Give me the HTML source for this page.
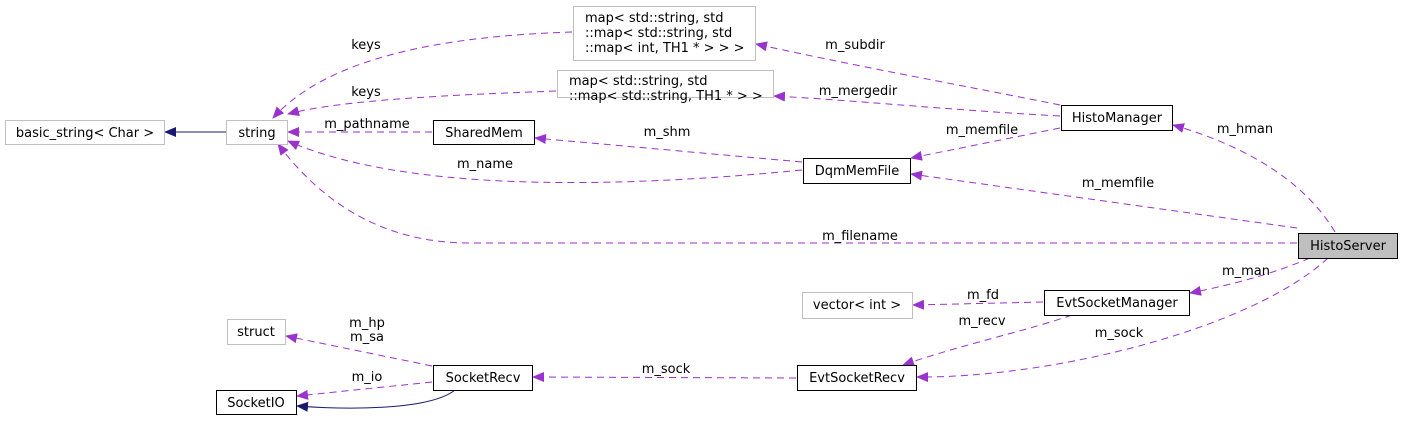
<!DOCTYPE html>
<html><head><meta charset="utf-8"><style>
body{margin:0;background:#fff;}
svg{display:block;font-family:"DejaVu Sans","Liberation Sans",sans-serif;font-size:13px;}
</style></head><body>
<svg width="1403" height="421" viewBox="0 0 1403 421" xmlns="http://www.w3.org/2000/svg">
<defs>
<marker id="p" markerWidth="12" markerHeight="10" refX="11" refY="5" orient="auto" markerUnits="userSpaceOnUse"><path d="M0,0 L12,5 L0,10 z" fill="#9a32cd"/></marker>
<marker id="b" markerWidth="12" markerHeight="10" refX="11" refY="5" orient="auto" markerUnits="userSpaceOnUse"><path d="M0,0 L12,5 L0,10 z" fill="#191970"/></marker>
</defs>
<g fill="none" stroke="#9a32cd" stroke-dasharray="7,5" stroke-width="1">
<path d="M572,32 C450,36 330,55 273,118" marker-end="url(#p)"/>
<path d="M556,91 C450,95 340,100 288,114" marker-end="url(#p)"/>
<path d="M432,132 L288,132" marker-end="url(#p)"/>
<path d="M802,170 C600,190 400,190 288,141" marker-end="url(#p)"/>
<path d="M802,162 L535,138" marker-end="url(#p)"/>
<path d="M1060,116 C950,110 850,100 774,96" marker-end="url(#p)"/>
<path d="M1060,105 C960,85 850,65 756,44" marker-end="url(#p)"/>
<path d="M1060,128 L911,158" marker-end="url(#p)"/>
<path d="M1297,228 L911,174" marker-end="url(#p)"/>
<path d="M1335,232 C1310,190 1260,150 1173,125" marker-end="url(#p)"/>
<path d="M1297,243 L470,243 C380,243 320,200 278,144" marker-end="url(#p)"/>
<path d="M1310,258 C1270,275 1230,285 1190,293" marker-end="url(#p)"/>
<path d="M1328,258 C1250,330 1050,378 917,377" marker-end="url(#p)"/>
<path d="M1043,302 L913,305" marker-end="url(#p)"/>
<path d="M1072,315 C1030,330 960,345 903,365" marker-end="url(#p)"/>
<path d="M796,378 L533,377" marker-end="url(#p)"/>
<path d="M432,366 L286,336" marker-end="url(#p)"/>
<path d="M432,382 L297,396" marker-end="url(#p)"/>
</g>
<path d="M226,132 L165,132" stroke="#191970" fill="none" marker-end="url(#b)"/>
<path d="M455,390 C430,410 350,410 297,406" stroke="#191970" fill="none" marker-end="url(#b)"/>
<g stroke-width="1" fill="#fff">
<rect x="5.5" y="120.5" width="159" height="24" stroke="#bfbfbf"/>
<rect x="226.5" y="120.5" width="61" height="24" stroke="#bfbfbf"/>
<rect x="433.5" y="120.5" width="101" height="24" stroke="#000"/>
<rect x="573.5" y="6.5" width="182" height="54" stroke="#bfbfbf"/>
<rect x="557.5" y="70.5" width="216" height="27" stroke="#bfbfbf"/>
<rect x="1061.5" y="105.5" width="111" height="25" stroke="#000"/>
<rect x="803.5" y="158.5" width="107" height="25" stroke="#000"/>
<rect x="1298.5" y="233.5" width="99" height="25" stroke="#000" fill="#bfbfbf"/>
<rect x="802.5" y="292.5" width="110" height="26" stroke="#bfbfbf"/>
<rect x="1044.5" y="290.5" width="145" height="25" stroke="#000"/>
<rect x="227.5" y="319.5" width="58" height="25" stroke="#bfbfbf"/>
<rect x="433.5" y="365.5" width="99" height="25" stroke="#000"/>
<rect x="797.5" y="365.5" width="119" height="25" stroke="#000"/>
<rect x="216.5" y="390.5" width="80" height="24" stroke="#000"/>
</g>
<g fill="#000">
<text x="85" y="137" text-anchor="middle">basic_string&lt; Char &gt;</text>
<text x="257" y="137" text-anchor="middle">string</text>
<text x="484" y="137" text-anchor="middle">SharedMem</text>
<text x="585" y="22">map&lt; std::string, std</text>
<text x="585" y="37">::map&lt; std::string, std</text>
<text x="585" y="52">::map&lt; int, TH1 * &gt; &gt; &gt;</text>
<text x="569" y="85">map&lt; std::string, std</text>
<text x="569" y="100">::map&lt; std::string, TH1 * &gt; &gt;</text>
<text x="1117" y="122" text-anchor="middle">HistoManager</text>
<text x="857" y="175" text-anchor="middle">DqmMemFile</text>
<text x="1348" y="250" text-anchor="middle">HistoServer</text>
<text x="857" y="309" text-anchor="middle">vector&lt; int &gt;</text>
<text x="1117" y="307" text-anchor="middle">EvtSocketManager</text>
<text x="256" y="336" text-anchor="middle">struct</text>
<text x="483" y="382" text-anchor="middle">SocketRecv</text>
<text x="857" y="382" text-anchor="middle">EvtSocketRecv</text>
<text x="256" y="407" text-anchor="middle">SocketIO</text>
<text x="366" y="49" text-anchor="middle">keys</text>
<text x="366" y="96" text-anchor="middle">keys</text>
<text x="367" y="128" text-anchor="middle">m_pathname</text>
<text x="485" y="168" text-anchor="middle">m_name</text>
<text x="667" y="136" text-anchor="middle">m_shm</text>
<text x="855" y="49" text-anchor="middle">m_subdir</text>
<text x="858" y="95" text-anchor="middle">m_mergedir</text>
<text x="982" y="134" text-anchor="middle">m_memfile</text>
<text x="1245" y="133" text-anchor="middle">m_hman</text>
<text x="1118" y="187" text-anchor="middle">m_memfile</text>
<text x="860" y="240" text-anchor="middle">m_filename</text>
<text x="1246" y="275" text-anchor="middle">m_man</text>
<text x="983" y="299" text-anchor="middle">m_fd</text>
<text x="982" y="325" text-anchor="middle">m_recv</text>
<text x="1119" y="337" text-anchor="middle">m_sock</text>
<text x="666" y="373" text-anchor="middle">m_sock</text>
<text x="367" y="327" text-anchor="middle">m_hp</text>
<text x="367" y="341" text-anchor="middle">m_sa</text>
<text x="367" y="381" text-anchor="middle">m_io</text>
</g>
</svg>
</body></html>
